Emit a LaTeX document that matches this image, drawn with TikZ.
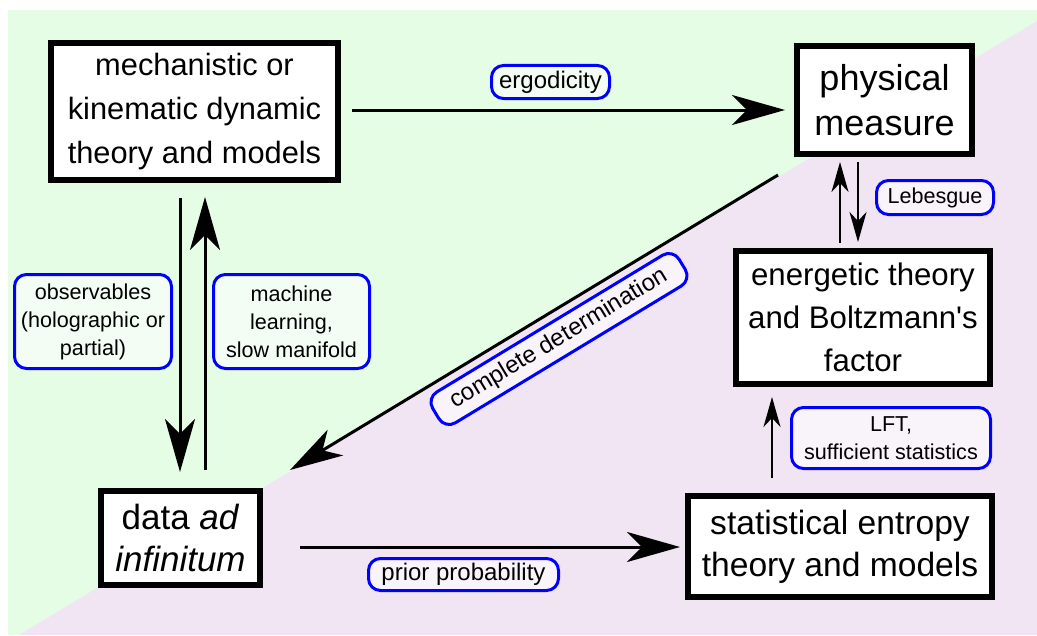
\documentclass[tikz,border=0pt]{standalone}
\usepackage{fontspec}
\setmainfont{Liberation Sans}
\usetikzlibrary{arrows.meta}
\definecolor{greenbg}{RGB}{229,252,229}
\definecolor{purplebg}{RGB}{241,229,243}
\begin{document}
\begin{tikzpicture}[x=0.75pt,y=-0.75pt,
 box/.style={draw=black, line width=4.5pt, fill=white, inner sep=0pt, align=center},
 lab/.style={draw=blue, line width=2.25pt, rounded corners=9pt, fill=white, fill opacity=0.6, text opacity=1, inner sep=0pt, align=center, font=\fontsize{16.2}{21}\selectfont},
 labbig/.style={lab, font=\fontsize{18}{22}\selectfont},
 big/.style={line width=2.25pt, -{Stealth[length=39.75pt,width=22.5pt,inset=11.25pt]}},
 small/.style={line width=1.5pt, -{Stealth[length=22.5pt,width=12.75pt,inset=6.75pt]}},
]
\useasboundingbox (0,0) rectangle (1037,635);
\fill[greenbg] (8,10) rectangle (1037,635);
\fill[purplebg] (1037,21) -- (1037,635) -- (19,635) -- cycle;

% main boxes
\node[box, minimum width=215.25pt, minimum height=102.75pt, font=\fontsize{23.1}{33}\selectfont] (mech) at (194.5,111.5) {mechanistic or\\kinematic dynamic\\theory and models};
\node[box, minimum width=131.25pt, minimum height=81pt, font=\fontsize{27}{33.75}\selectfont] (phys) at (884.5,100) {physical\\measure};
\node[box, minimum width=190.5pt, minimum height=99.75pt, font=\fontsize{23.4}{32.25}\selectfont] (energ) at (863,317.5) {energetic theory\\and Boltzmann\textquotesingle s\\factor};
\node[box, minimum width=228pt, minimum height=75.75pt, font=\fontsize{25.2}{31.5}\selectfont] (stat) at (840,546.5) {statistical entropy\\theory and models};
\node[box, minimum width=119.25pt, minimum height=70.5pt, font=\fontsize{26.25}{31}\selectfont] (data) at (180.5,538) {data \textit{ad}\\\textit{infinitum}};

% arrow end points
\coordinate (ergA) at (352,110);
\coordinate (ergB) at (785,110);
\coordinate (obsA) at (180,198);
\coordinate (obsB) at (180,472);
\coordinate (mlA) at (205,470);
\coordinate (mlB) at (205,197);
\coordinate (lebUpA) at (840,243);
\coordinate (lebUpB) at (840,162);
\coordinate (lebDnA) at (858,162);
\coordinate (lebDnB) at (858,242);
\coordinate (lftA) at (772,478);
\coordinate (lftB) at (772,397);
\coordinate (cdA) at (778,175);
\coordinate (cdB) at (290,470);
\coordinate (prA) at (300,547);
\coordinate (prB) at (680,547);

% connectors
\draw[big] (ergA) -- (ergB);
\draw[big] (obsA) -- (obsB);
\draw[big] (mlA) -- (mlB);
\draw[small] (lebUpA) -- (lebUpB);
\draw[small] (lebDnA) -- (lebDnB);
\draw[small] (lftA) -- (lftB);
\draw[big] (cdA) -- (cdB);
\draw[big] (prA) -- (prB);

% labels
\node[labbig, minimum width=88.5pt, minimum height=24.75pt] (lerg) at (550.5,82) {ergodicity};
\node[lab, minimum width=87.75pt, minimum height=25.5pt] (lleb) at (935,197.5) {Lebesgue};
\node[lab, minimum width=117.75pt, minimum height=70.5pt] (lobs) at (93,321.5) {observables\\(holographic or\\partial)};
\node[lab, minimum width=117pt, minimum height=70.5pt] (lml) at (291.5,321.5) {machine\\learning,\\slow manifold};
\node[lab, minimum width=149.25pt, minimum height=45.75pt] (llft) at (891,438) {LFT,\\sufficient statistics};
\node[labbig, minimum width=142.5pt, minimum height=24pt] (lpr) at (463.5,574.5) {prior probability};
\node[labbig, minimum width=216pt, minimum height=27pt, rotate=31.2] (lcd) at (559,339) {complete determination};
\end{tikzpicture}
\end{document}
